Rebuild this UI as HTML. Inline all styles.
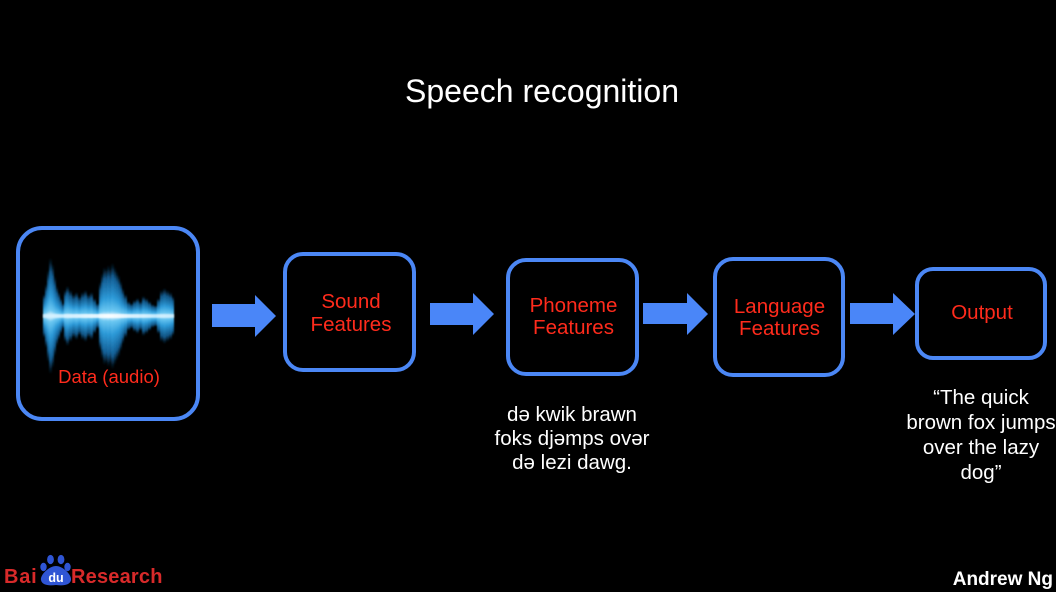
<!DOCTYPE html>
<html>
<head>
<meta charset="utf-8">
<style>
  html, body { margin:0; padding:0; }
  body { width:1056px; height:592px; background:#000; position:relative; overflow:hidden;
         font-family:"Liberation Sans", Arial, sans-serif; }
  .abs { position:absolute; }
  .box { position:absolute; box-sizing:border-box; border:4px solid #4b87f5; }
  .red { color:#ff2b1c; font-size:20.5px; text-align:center; white-space:nowrap; }
  .white { color:#fff; font-size:20.5px; text-align:center; white-space:nowrap; }
</style>
</head>
<body>

<div class="abs" style="left:0; width:1084px; top:71px; line-height:40px; font-size:32px; color:#fff; text-align:center; white-space:nowrap;">Speech recognition</div>

<div class="box" style="left:16px; top:226px; width:184px; height:195px; border-radius:26px;"></div>
<div class="box" style="left:283px; top:252px; width:133px; height:120px; border-radius:20px;"></div>
<div class="box" style="left:506px; top:258px; width:133px; height:118px; border-radius:20px;"></div>
<div class="box" style="left:713px; top:257px; width:132px; height:120px; border-radius:20px;"></div>
<div class="box" style="left:915px; top:267px; width:132px; height:93px; border-radius:18px;"></div>

<svg class="abs" style="left:0; top:0;" width="1056" height="592" viewBox="0 0 1056 592">
  <defs>
    <linearGradient id="bar" x1="0" y1="0" x2="0" y2="1">
      <stop offset="0" stop-color="#0e4f80" stop-opacity="0"/>
      <stop offset="0.12" stop-color="#1670b0" stop-opacity="0.75"/>
      <stop offset="0.32" stop-color="#2d9ad8"/>
      <stop offset="0.45" stop-color="#6cc8f2"/>
      <stop offset="0.5" stop-color="#f2fbff"/>
      <stop offset="0.55" stop-color="#6cc8f2"/>
      <stop offset="0.68" stop-color="#2d9ad8"/>
      <stop offset="0.88" stop-color="#1670b0" stop-opacity="0.75"/>
      <stop offset="1" stop-color="#0e4f80" stop-opacity="0"/>
    </linearGradient>
    <linearGradient id="hl" x1="0" y1="0" x2="1" y2="0">
      <stop offset="0" stop-color="#bfeaff" stop-opacity="0.5"/>
      <stop offset="0.5" stop-color="#ffffff" stop-opacity="0.8"/>
      <stop offset="1" stop-color="#bfeaff" stop-opacity="0.5"/>
    </linearGradient>
    <filter id="soft"><feGaussianBlur stdDeviation="0.8"/></filter>
  </defs>

  <g fill="#4a86f8">
    <polygon points="212,304 255,304 255,295 276,316 255,337 255,327 212,327"/>
    <polygon points="430,303 473,303 473,293 494,314 473,335 473,325 430,325"/>
    <polygon points="643,303 687,303 687,293 708,314 687,335 687,324 643,324"/>
    <polygon points="850,303 893,303 893,293 915,314 893,335 893,324 850,324"/>
  </g>

  <g fill="url(#bar)" filter="url(#soft)">
    <rect x="43" y="294" width="3" height="44"/>
    <rect x="45" y="284" width="3" height="64"/>
    <rect x="47" y="270" width="3" height="92"/>
    <rect x="49" y="258" width="3" height="116"/>
    <rect x="51" y="264" width="3" height="104"/>
    <rect x="53" y="276" width="3" height="80"/>
    <rect x="55" y="286" width="3" height="60"/>
    <rect x="57" y="292" width="3" height="48"/>
    <rect x="59" y="298" width="3" height="36"/>
    <rect x="61" y="303" width="3" height="26"/>
    <rect x="64" y="290" width="3" height="52"/>
    <rect x="66" y="286" width="3" height="60"/>
    <rect x="69" y="290" width="3" height="52"/>
    <rect x="72" y="294" width="3" height="44"/>
    <rect x="75" y="292" width="3" height="48"/>
    <rect x="78" y="296" width="3" height="40"/>
    <rect x="81" y="292" width="3" height="48"/>
    <rect x="84" y="290" width="3" height="52"/>
    <rect x="87" y="294" width="3" height="44"/>
    <rect x="90" y="292" width="3" height="48"/>
    <rect x="93" y="298" width="3" height="36"/>
    <rect x="96" y="303" width="3" height="26"/>
    <rect x="99" y="282" width="3" height="68"/>
    <rect x="101" y="273" width="3" height="86"/>
    <rect x="103" y="267" width="3" height="98"/>
    <rect x="105" y="269" width="3" height="94"/>
    <rect x="107" y="265" width="3" height="102"/>
    <rect x="109" y="269" width="3" height="94"/>
    <rect x="111" y="263" width="3" height="106"/>
    <rect x="113" y="267" width="3" height="98"/>
    <rect x="115" y="271" width="3" height="90"/>
    <rect x="117" y="275" width="3" height="82"/>
    <rect x="119" y="281" width="3" height="70"/>
    <rect x="121" y="288" width="3" height="56"/>
    <rect x="124" y="294" width="3" height="44"/>
    <rect x="127" y="301" width="3" height="30"/>
    <rect x="130" y="303" width="3" height="26"/>
    <rect x="133" y="300" width="3" height="32"/>
    <rect x="136" y="298" width="3" height="36"/>
    <rect x="139" y="301" width="3" height="30"/>
    <rect x="142" y="296" width="3" height="40"/>
    <rect x="145" y="298" width="3" height="36"/>
    <rect x="148" y="301" width="3" height="30"/>
    <rect x="151" y="304" width="3" height="24"/>
    <rect x="154" y="305" width="3" height="22"/>
    <rect x="157" y="298" width="3" height="36"/>
    <rect x="160" y="290" width="3" height="52"/>
    <rect x="163" y="288" width="3" height="56"/>
    <rect x="166" y="290" width="3" height="52"/>
    <rect x="169" y="292" width="3" height="48"/>
    <rect x="171" y="296" width="3" height="40"/>
  </g>
  <rect x="43" y="314" width="131" height="4" fill="url(#hl)" filter="url(#soft)"/>

  <g fill="#2f55d4">
    <ellipse cx="43.5" cy="567" rx="3.2" ry="4.2"/>
    <ellipse cx="50.5" cy="559.5" rx="3.4" ry="4.6"/>
    <ellipse cx="61" cy="559.5" rx="3.4" ry="4.6"/>
    <ellipse cx="67.5" cy="567" rx="3.2" ry="4.2"/>
    <path d="M56,566 C63,566 72,575 71,580 C70,585 64,586 56,585 C48,586 42,585 41,580 C40,575 49,566 56,566 Z"/>
  </g>
</svg>

<div class="abs red" style="left:16px; width:186px; top:365px; line-height:24px; font-size:18.5px;">Data (audio)</div>
<div class="abs red" style="left:283px; width:136px; top:289.5px; line-height:23px;">Sound<br>Features</div>
<div class="abs red" style="left:506px; width:135px; top:295px; line-height:22px;">Phoneme<br>Features</div>
<div class="abs red" style="left:713px; width:133px; top:296px; line-height:22px;">Language<br>Features</div>
<div class="abs red" style="left:915px; width:134px; top:301px; line-height:24px;">Output</div>

<div class="abs white" style="left:472px; width:200px; top:403px; line-height:24px;">də kwik brawn<br>foks djəmps ovər<br>də lezi dawg.</div>
<div class="abs white" style="left:881px; width:200px; top:384.5px; line-height:25px;">“The quick<br>brown fox jumps<br>over the lazy<br>dog”</div>

<div class="abs" style="left:4px; top:565px; line-height:24px; font-size:20px; font-weight:bold; color:#d82a2a; white-space:nowrap; letter-spacing:0.8px;">Bai</div>
<div class="abs" style="left:43px; top:571px; width:26px; text-align:center; line-height:14px; font-size:12.5px; font-weight:bold; color:#fff;">du</div>
<div class="abs" style="left:71px; top:565px; line-height:24px; font-size:20px; font-weight:bold; color:#d82a2a; white-space:nowrap; letter-spacing:0.2px;">Research</div>
<div class="abs" style="right:3px; top:568px; line-height:24px; font-size:19px; font-weight:bold; color:#fff; white-space:nowrap;">Andrew Ng</div>

</body>
</html>
